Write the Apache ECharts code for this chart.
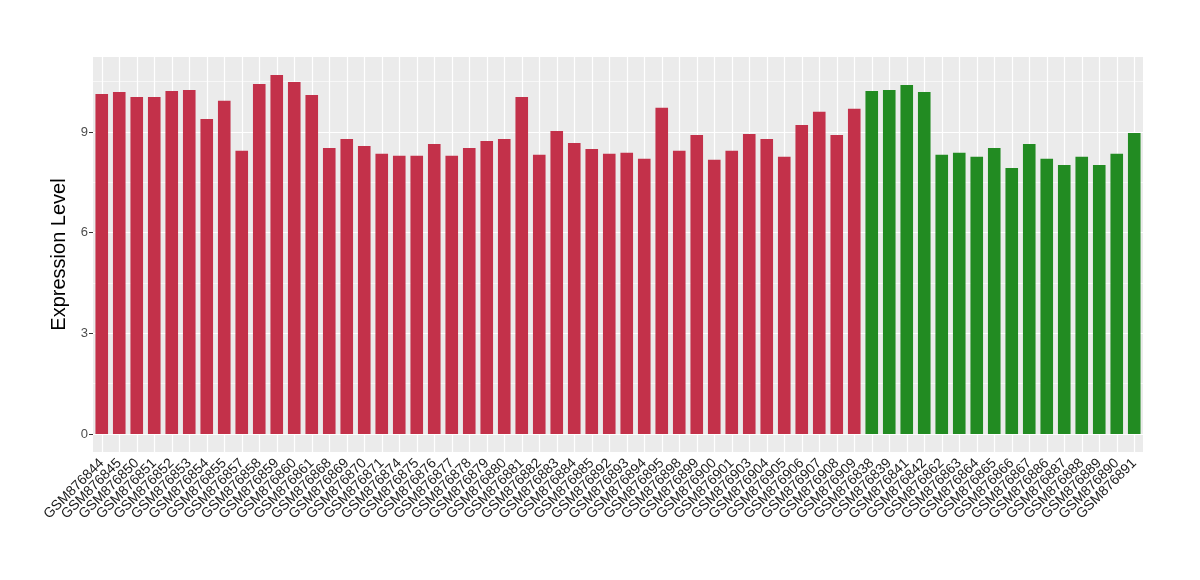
<!DOCTYPE html>
<html>
<head>
<meta charset="utf-8">
<script src="https://cdn.jsdelivr.net/npm/echarts@6/dist/echarts.min.js"></script>
<style>
  html, body { margin: 0; padding: 0; background: #fff; }
  #chart { width: 1200px; height: 580px; }
</style>
</head>
<body>
<div id="chart"></div>
<script>
// red group samples
var redSamples = ["GSM876844","GSM876845","GSM876850","GSM876851","GSM876852","GSM876853","GSM876854","GSM876855","GSM876857","GSM876858",
    "GSM876859","GSM876860","GSM876861","GSM876868","GSM876869","GSM876870","GSM876871","GSM876874","GSM876875","GSM876876",
    "GSM876877","GSM876878","GSM876879","GSM876880","GSM876881","GSM876882","GSM876883","GSM876884","GSM876885","GSM876892",
    "GSM876893","GSM876894","GSM876895","GSM876898","GSM876899","GSM876900","GSM876901","GSM876903","GSM876904","GSM876905",
    "GSM876906","GSM876907","GSM876908","GSM876909"];
var redValues = [10.13,10.19,10.04,10.04,10.22,10.25,9.39,9.93,8.44,10.43,
    10.70,10.49,10.10,8.52,8.79,8.58,8.35,8.29,8.29,8.64,
    8.29,8.52,8.73,8.79,10.04,8.32,9.03,8.67,8.49,8.35,
    8.38,8.20,9.72,8.44,8.91,8.17,8.44,8.94,8.79,8.26,
    9.21,9.60,8.91,9.69];

// green group samples
var greenSamples = ["GSM876838","GSM876839","GSM876841","GSM876842","GSM876862","GSM876863","GSM876864","GSM876865","GSM876866","GSM876867",
    "GSM876886","GSM876887","GSM876888","GSM876889","GSM876890","GSM876891"];
var greenValues = [10.22,10.25,10.40,10.19,8.32,8.38,8.26,8.52,7.93,8.64,
    8.20,8.02,8.26,8.02,8.35,8.97];

var yTicks = [0, 3, 6, 9];
var yMinor = [1.5, 4.5, 7.5, 10.5];

var categories = redSamples.concat(greenSamples);
var redData = redValues.concat(greenSamples.map(function () { return '-'; }));
var greenData = redSamples.map(function () { return '-'; }).concat(greenValues);

var chart = echarts.init(document.getElementById('chart'));

// panel grid lines (drawn under the bars)
var gridLines = [];
yMinor.forEach(function (v) {
    gridLines.push({ yAxis: v, lineStyle: { width: 0.6 } });
});
yTicks.forEach(function (v) {
    gridLines.push({ yAxis: v, lineStyle: { width: 1.2 } });
});
categories.forEach(function (c) {
    gridLines.push({ xAxis: c, lineStyle: { width: 1.2 } });
});

chart.setOption({
    animation: false,
    textStyle: { fontFamily: 'Liberation Sans, Arial, sans-serif' },
    grid: {
        left: 93, right: 57, top: 57, bottom: 128,
        show: true, backgroundColor: '#EBEBEB', borderWidth: 0
    },
    xAxis: {
        type: 'category',
        data: categories,
        axisLine: { show: false },
        axisTick: { show: true, alignWithLabel: true, length: 4, lineStyle: { color: '#333333' } },
        axisLabel: { rotate: 45, interval: 0, fontSize: 14, color: '#1A1A1A', margin: 9 },
        splitLine: { show: false }
    },
    yAxis: {
        type: 'value',
        min: -0.535,
        max: 11.235,
        name: 'Expression Level',
        nameLocation: 'middle',
        nameGap: 17,
        nameTextStyle: { fontSize: 20, color: '#000' },
        axisLine: { show: false },
        axisTick: { show: true, length: 4, customValues: yTicks, lineStyle: { color: '#333333' } },
        axisLabel: { customValues: yTicks, fontSize: 13, color: '#4D4D4D', margin: 5 },
        splitLine: { show: false }
    },
    series: [
        {
            type: 'bar',
            stack: 'all',
            data: redData,
            barCategoryGap: '28%',
            itemStyle: { color: '#C3314A' },
            markLine: {
                silent: true,
                z: 1,
                symbol: ['none', 'none'],
                label: { show: false },
                lineStyle: { color: '#FFFFFF', type: 'solid' },
                emphasis: { disabled: true },
                data: gridLines
            }
        },
        {
            type: 'bar',
            stack: 'all',
            data: greenData,
            barCategoryGap: '28%',
            itemStyle: { color: '#228B22' }
        }
    ]
});
</script>
</body>
</html>
